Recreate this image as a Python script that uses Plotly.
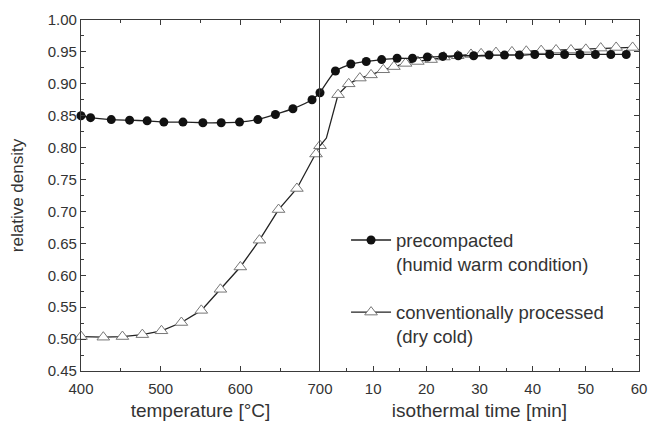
import plotly.graph_objects as go

# ---- data -------------------------------------------------------------
# precompacted (humid warm condition)
pc_temp = [400, 412, 438, 461, 483, 504, 528, 553, 576, 599, 622, 644, 666, 690, 700]
pc_temp_rd = [0.850, 0.847, 0.844, 0.843, 0.842, 0.840, 0.840, 0.839, 0.839, 0.840,
              0.844, 0.852, 0.861, 0.875, 0.886]
pc_time = [2.9, 5.8, 8.7, 11.6, 14.5, 17.4, 20.2, 23.1, 26.0, 28.9, 31.8, 34.7, 37.5,
           40.4, 43.2, 46.0, 48.9, 51.8, 54.7, 57.6]
pc_time_rd = [0.920, 0.931, 0.935, 0.938, 0.940, 0.940, 0.942, 0.943, 0.944, 0.944,
              0.945, 0.945, 0.945, 0.946, 0.946, 0.946, 0.946, 0.946, 0.946, 0.946]

# conventionally processed (dry cold)
cp_temp = [400, 428, 452, 477, 501, 526, 551, 575, 600, 624, 648, 671, 695, 700]
cp_temp_rd = [0.504, 0.503, 0.504, 0.507, 0.513, 0.526, 0.545, 0.578, 0.613, 0.655,
              0.703, 0.736, 0.790, 0.803]
cp_time = [1.2, 3.4, 5.4, 7.5, 9.6, 11.9, 13.9, 16.1, 18.4, 20.9, 23.3, 25.9, 28.4,
           30.3, 33.1, 36.1, 38.8, 41.6, 44.4, 47.2, 50.0, 52.8, 55.7, 58.8]
cp_time_rd = [0.815, 0.883, 0.900, 0.909, 0.914, 0.922, 0.927, 0.932, 0.935, 0.938,
              0.942, 0.944, 0.946, 0.947, 0.949, 0.950, 0.951, 0.952, 0.953, 0.953,
              0.954, 0.956, 0.957, 0.957]
cp_time_marked = [False] + [True] * (len(cp_time) - 1)

y_ticks = [0.45, 0.50, 0.55, 0.60, 0.65, 0.70, 0.75, 0.80, 0.85, 0.90, 0.95, 1.00]
temp_ticks = [400, 500, 600, 700]
time_ticks = [10, 20, 30, 40, 50, 60]

# ---- style ------------------------------------------------------------
FONT = "Liberation Sans, Arial, sans-serif"
TXT = "#333333"
AX = "#3a3a3a"
LINE = "#222222"
CIRC_SIZE = 9
TRI_SIZE = 11
CIRC = dict(symbol="circle", color="#111111", size=CIRC_SIZE, opacity=1, line=dict(width=0))
TRI = dict(symbol="triangle-up", color="white", size=TRI_SIZE, opacity=1,
           line=dict(color="#777777", width=1))

fig = go.Figure()

name_pc = "precompacted<br>(humid warm condition)"
name_cp = "conventionally processed<br>(dry cold)"

# conventionally processed (drawn first, underneath)
fig.add_trace(go.Scatter(x=cp_temp, y=cp_temp_rd, xaxis="x", yaxis="y",
                         mode="lines+markers", name=name_cp, legendgroup="cp",
                         legendrank=2,
                         line=dict(color=LINE, width=1.3),
                         marker=TRI, cliponaxis=False))
fig.add_trace(go.Scatter(x=[0] + cp_time, y=[cp_temp_rd[-1]] + cp_time_rd,
                         xaxis="x2", yaxis="y2", mode="lines+markers",
                         name=name_cp, legendgroup="cp", showlegend=False,
                         line=dict(color=LINE, width=1.3),
                         marker=dict(TRI, size=[0] + [TRI_SIZE if m else 0 for m in cp_time_marked]),
                         cliponaxis=False))

# precompacted
fig.add_trace(go.Scatter(x=pc_temp, y=pc_temp_rd, xaxis="x", yaxis="y",
                         mode="lines+markers", name=name_pc, legendgroup="pc",
                         legendrank=1,
                         line=dict(color=LINE, width=1.3, shape="spline", smoothing=0.5),
                         marker=CIRC, cliponaxis=False))
fig.add_trace(go.Scatter(x=[0] + pc_time, y=[pc_temp_rd[-1]] + pc_time_rd,
                         xaxis="x2", yaxis="y2", mode="lines+markers",
                         name=name_pc, legendgroup="pc", showlegend=False,
                         line=dict(color=LINE, width=1.3, shape="spline", smoothing=0.5),
                         marker=dict(CIRC, size=[0] + [CIRC_SIZE] * len(pc_time)),
                         cliponaxis=False))

split = (320 - 81) / (639 - 81)

common_x = dict(showline=True, linecolor=AX, linewidth=1.2, mirror="ticks",
                ticks="inside", ticklen=5, tickwidth=1.2, tickcolor=AX,
                showgrid=False, zeroline=False, automargin=False,
                tickfont=dict(family=FONT, size=15, color=TXT),
                ticklabelstandoff=4,
                title_font=dict(family=FONT, size=19, color=TXT),
                title_standoff=7)

fig.update_layout(
    width=648, height=425,
    margin=dict(l=81, r=9, t=20, b=54),
    plot_bgcolor="white", paper_bgcolor="white",
    font=dict(family=FONT, color=TXT),
    xaxis=dict(common_x, domain=[0, split], range=[400, 700], anchor="y",
               tickvals=temp_ticks,
               minor=dict(dtick=50, ticks="inside", ticklen=3, tickcolor=AX, tickwidth=1.2),
               title_text="temperature [°C]"),
    xaxis2=dict(common_x, domain=[split, 1], range=[0, 60], anchor="y2",
                tickvals=time_ticks,
                minor=dict(dtick=5, ticks="inside", ticklen=3, tickcolor=AX, tickwidth=1.2),
                title_text="isothermal time [min]"),
    yaxis=dict(range=[0.45, 1.00], anchor="x", side="left",
               showline=True, linecolor=AX, linewidth=1.2,
               ticks="inside", ticklen=5, tickwidth=1.2, tickcolor=AX,
               tickvals=y_ticks, tickformat=".2f",
               minor=dict(dtick=0.025, ticks="inside", ticklen=3, tickcolor=AX, tickwidth=1.2),
               showgrid=False, zeroline=False, automargin=False,
               tickfont=dict(family=FONT, size=15, color=TXT),
               title_text="relative density",
               title_font=dict(family=FONT, size=17, color=TXT),
               title_standoff=19),
    yaxis2=dict(range=[0.45, 1.00], anchor="x2", side="right",
                showline=True, linecolor=AX, linewidth=1.2, mirror=True,
                ticks="inside", ticklen=5, tickwidth=1.2, tickcolor=AX,
                tickvals=y_ticks, showticklabels=False,
                minor=dict(dtick=0.025, ticks="inside", ticklen=3, tickcolor=AX, tickwidth=1.2),
                showgrid=False, zeroline=False, automargin=False),
    legend=dict(x=0.475, y=0.426, xanchor="left", yanchor="top",
                bgcolor="rgba(0,0,0,0)", borderwidth=0,
                font=dict(family=FONT, size=18.5, color=TXT),
                valign="top", tracegroupgap=21, itemwidth=40,
                traceorder="grouped"),
)

# remove the browser's default 8px body margin so the figure fills the window
fig.write_html("out.html",
               config={"displayModeBar": False},
               post_script="document.body.style.margin='0';document.body.style.overflow='hidden';")
